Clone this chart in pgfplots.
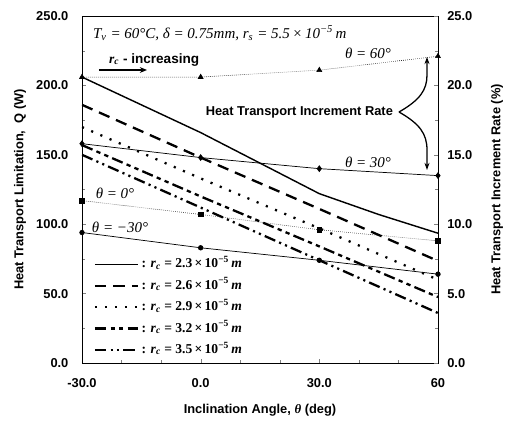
\documentclass[border=0pt]{standalone}
\usepackage{fontspec}
\setmainfont{Liberation Sans}
\newfontfamily\tnr{Liberation Serif}
\usepackage{pgfplots}
\pgfplotsset{compat=1.18}
\usetikzlibrary{arrows.meta}

% 1 px of the reference = 0.7pt; plot area 356 x 347 px
\newcommand{\lab}{\bfseries\fontsize{9}{10}\selectfont}
\newcommand{\rc}[1]{{\tnr\bfseries : \itshape r\textsubscript{c}\upshape{} = #1\,×\,10\textsuperscript{−5}\,\itshape m}}

\begin{document}
\begin{tikzpicture}
\useasboundingbox (-57.4pt,-42.7pt) rectangle (299.6pt,254.1pt);

\begin{axis}[
  scale only axis, width=249.2pt, height=242.9pt,
  xmin=-30, xmax=60, ymin=0, ymax=250,
  xtick={-30,0,30,60}, xticklabels={-30.0,0.0,30.0,60},
  ytick={0,50,...,250}, yticklabels={0.0,50.0,100.0,150.0,200.0,250.0},
  minor x tick num=2, minor y tick num=1,
  xtick pos=bottom, ytick pos=left,
  tick align=inside, major tick length=3pt, minor tick length=2pt,
  tick label style={font=\lab},
  xticklabel style={yshift=-7pt},
  yticklabel style={xshift=-6pt},
  axis line style={line width=0.6pt},
  xlabel={\lab Inclination Angle, {\tnr\itshape θ} (deg)},
  xlabel style={at={(axis description cs:0.5,-0.135)}, anchor=center},
  ylabel={\lab Heat Transport Limitation,\ \ Q (W)},
  ylabel style={at={(axis description cs:-0.174,0.5)}, anchor=center, rotate=0},
  legend style={at={(axis description cs:0.02,0.01)}, anchor=south west,
    draw=none, fill=none, font=\fontsize{9.5}{10}\selectfont,
    nodes={inner ysep=0pt, text height=7pt, text depth=2pt}, row sep=6pt},
  legend cell align=left,
  legend image code/.code={\draw[#1] (0pt,0pt) -- (30pt,0pt);},
]
\addplot[black, line width=1pt] coordinates {
  (-30,206) (-15,186) (0,166) (15,144) (30,122) (45,107) (60,93.5)};
\addlegendentry{\rc{2.3}}
\addplot[black, line width=1.6pt, dash pattern=on 8pt off 5pt] coordinates {
  (-30,186) (0,148) (30,111) (60,73.5)};
\addlegendentry{\rc{2.6}}
\addplot[black, line width=1.6pt, dash pattern=on 1.5pt off 5.5pt] coordinates {
  (-30,170) (0,133) (30,97) (60,60)};
\addlegendentry{\rc{2.9}}
\addplot[black, line width=1.6pt, dash pattern=on 8pt off 3pt on 3pt off 3pt on 3pt off 3pt] coordinates {
  (-30,157) (0,120) (30,84) (60,47.5)};
\addlegendentry{\rc{3.2}}
\addplot[black, line width=1.6pt, dash pattern=on 8pt off 3pt on 1.5pt off 3pt on 1.5pt off 3pt] coordinates {
  (-30,150) (0,112) (30,74) (60,36)};
\addlegendentry{\rc{3.5}}
\end{axis}

\begin{axis}[
  scale only axis, width=249.2pt, height=242.9pt,
  xmin=-30, xmax=60, ymin=0, ymax=25,
  axis x line=none, axis y line*=right,
  ytick={0,5,...,25}, yticklabels={0.0,5.0,10.0,15.0,20.0,25.0},
  minor y tick num=1,
  tick align=inside, major tick length=3pt, minor tick length=2pt,
  tick label style={font=\lab},
  yticklabel style={xshift=3pt},
  axis line style={line width=0.6pt},
  ylabel={\lab Heat Transport Increment Rate (\%)},
  ylabel style={at={(axis description cs:1.166,0.5)}, anchor=center, rotate=0},
]
\addplot[black, line width=0.4pt, densely dotted, mark=triangle*, mark size=2pt, mark options={solid}] coordinates {
  (-30,20.6) (0,20.6) (30,21.1) (60,22.1)};
\addplot[black, line width=0.5pt, mark=diamond*, mark size=2pt] coordinates {
  (-30,15.8) (0,14.8) (30,14.0) (60,13.5)};
\addplot[black, line width=0.4pt, densely dotted, mark=square*, mark size=1.6pt, mark options={solid}] coordinates {
  (-30,11.7) (0,10.7) (30,9.6) (60,8.8)};
\addplot[black, line width=0.5pt, mark=*, mark size=1.6pt] coordinates {
  (-30,9.4) (0,8.3) (30,7.4) (60,6.4)};
\end{axis}

% annotations, positioned in reference pixels (origin at the plot's lower left)
\def\P#1#2{({(#1-82)*0.7pt},{(363-#2)*0.7pt})}
\node[anchor=west, font=\tnr\itshape\fontsize{10.5}{11}\selectfont] at \P{88}{33}
  {T\textsubscript{v} = 60°C, δ = 0.75mm, r\textsubscript{s} = 5.5\,×\,10\textsuperscript{−5}\,m};
\node[anchor=west, font=\bfseries\fontsize{9.5}{10}\selectfont] at \P{104}{60}
  {{\tnr\itshape r\textsubscript{c}} - increasing};
\draw[-{Stealth[length=5pt,width=4pt]}, line width=1.2pt] \P{99}{70} -- \P{147}{70};
\node[anchor=east, font=\lab] at \P{398}{112} {Heat Transport Increment Rate};
\draw[-{Stealth[length=5pt,width=3.5pt]}, line width=0.9pt]
  \P{399}{112} .. controls \P{420}{100} and \P{427}{90} .. \P{427}{75} -- \P{427}{57};
\draw[-{Stealth[length=5pt,width=3.5pt]}, line width=0.9pt]
  \P{399}{112} .. controls \P{420}{124} and \P{427}{134} .. \P{427}{150} -- \P{427}{170};
\node[font=\tnr\itshape\fontsize{10.5}{11}\selectfont] at \P{368}{53} {θ = 60°};
\node[font=\tnr\itshape\fontsize{10.5}{11}\selectfont] at \P{368}{162} {θ = 30°};
\node[font=\tnr\itshape\fontsize{10.5}{11}\selectfont] at \P{115}{193} {θ = 0°};
\node[font=\tnr\itshape\fontsize{10.5}{11}\selectfont] at \P{120}{227} {θ = −30°};
\end{tikzpicture}
\end{document}
